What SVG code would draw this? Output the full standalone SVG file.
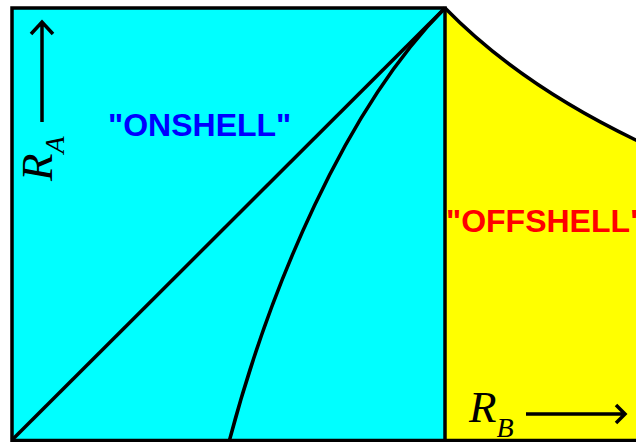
<svg xmlns="http://www.w3.org/2000/svg" width="636" height="442" viewBox="0 0 636 442">
<style>
.ln{fill:none;stroke:#000;stroke-width:3.5;stroke-linejoin:miter}
.lbl{font-family:"Liberation Sans",Arial,sans-serif;font-weight:bold;font-size:32px}
.math{font-family:"Liberation Serif","Times New Roman",serif;font-style:italic}
</style>
<rect width="636" height="442" fill="#fff"/>
<g id="onshell-region">
<rect x="12" y="8" width="433" height="432" fill="#00ffff"/>
</g>
<g id="offshell-region">
<path d="M445,8 Q520,85 640,142 L640,442 L445,442 Z" fill="#ffff00"/>
</g>
<g id="connectors">
<path class="ln" d="M12,442 L12,8 L445,8 L445,442"/>
<path class="ln" d="M12,440.5 L636,440.5"/>
<path class="ln" d="M12,440 L445,8"/>
<path class="ln" d="M229,442 C269,290 345,108 445,8"/>
<path class="ln" d="M445,8 Q520,85 640,142"/>
<path class="ln" stroke-width="2.5" d="M42,122 L42,22 M31,34 L42,22 L53,34"/>
<path class="ln" stroke-width="2.5" d="M526,414 L625,414 M616,405 L625,414 L616,423"/>
</g>
<g id="label-onshell">
<text class="lbl" x="108" y="136" fill="#0000ff">"ONSHELL"</text>
</g>
<g id="label-offshell">
<text class="lbl" x="446" y="232" fill="#ff0000">"OFFSHELL"</text>
</g>
<g id="label-ra">
<text class="math" transform="translate(52,181) rotate(-90)" font-size="45">R<tspan font-size="28" dy="12">A</tspan></text>
</g>
<g id="label-rb">
<text class="math" x="469" y="422" font-size="45">R<tspan font-size="28" dy="15">B</tspan></text>
</g>
</svg>
